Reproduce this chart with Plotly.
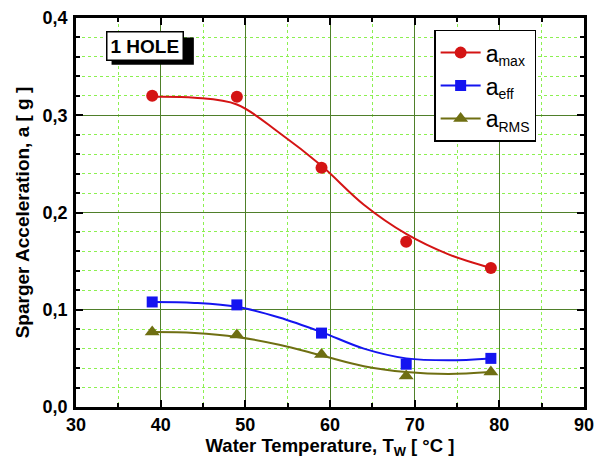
import plotly.graph_objects as go

# Measured data points
temps = [39, 49, 59, 69, 79]
a_max = [0.320, 0.319, 0.246, 0.170, 0.143]
a_eff = [0.108, 0.105, 0.076, 0.044, 0.050]
a_rms = [0.077, 0.074, 0.054, 0.032, 0.036]

# Fitted (smooth) curves
fit_t = [39, 44, 49, 54, 59, 64, 69, 74, 79]
fit_max = [0.319, 0.318, 0.311, 0.282, 0.248, 0.208, 0.178, 0.157, 0.143]
fit_eff = [0.108, 0.107, 0.103, 0.092, 0.077, 0.060, 0.050, 0.048, 0.050]
fit_rms = [0.077, 0.076, 0.072, 0.064, 0.053, 0.042, 0.036, 0.034, 0.036]

sub = "<sub><span style='font-size:14px'>{}</span></sub>"
series = [
    ("a" + sub.format("max"), a_max, fit_max, "#d41414", "circle", 12),
    ("a" + sub.format("eff"), a_eff, fit_eff, "#1414f0", "square", 11),
    ("a" + sub.format("RMS"), a_rms, fit_rms, "#6f6f12", "triangle-up", 13),
]

fig = go.Figure()
for name, vals, fit, color, sym, size in series:
    fig.add_trace(go.Scatter(x=fit_t, y=fit, mode="lines", line=dict(color=color, width=2, shape="spline"),
                             showlegend=False, hoverinfo="skip"))
    fig.add_trace(go.Scatter(x=temps, y=vals, mode="markers",
                             marker=dict(color=color, symbol=sym, size=size), showlegend=False))
    fig.add_trace(go.Scatter(x=[None], y=[None], mode="lines+markers", name=name,
                             line=dict(color=color, width=2),
                             marker=dict(color=color, symbol=sym, size=size)))

font_family = "Liberation Sans, Arial, sans-serif"
grid_major = "#4f7f2a"
grid_minor = "#8cf050"
tickfont = dict(size=18, family=font_family, color="black", weight="bold")

fig.update_xaxes(range=[30, 90], dtick=10, tick0=30, showgrid=True, gridcolor=grid_major, gridwidth=1.3,
                 minor=dict(dtick=5, showgrid=True, gridcolor=grid_minor, griddash="dot", gridwidth=1,
                            ticks="inside", ticklen=4, tickcolor="black"),
                 ticks="inside", ticklen=7, tickwidth=2, tickcolor="black", mirror="ticks",
                 showline=True, linecolor="black", linewidth=2.5, zeroline=False, automargin=False,
                 tickfont=tickfont,
                 title=dict(text="<b>Water Temperature, T<sub>W</sub> [ °C ]</b>",
                            font=dict(size=18.5, family=font_family, color="black"), standoff=5))
fig.update_yaxes(range=[0, 0.4], dtick=0.1, tick0=0, tickformat=".1f", showgrid=True, gridcolor=grid_major,
                 gridwidth=1.3,
                 minor=dict(dtick=0.02, showgrid=True, gridcolor=grid_minor, griddash="dot", gridwidth=1,
                            ticks="inside", ticklen=4, tickcolor="black"),
                 ticks="inside", ticklen=7, tickwidth=2, tickcolor="black", mirror="ticks",
                 showline=True, linecolor="black", linewidth=2.5, zeroline=False, automargin=False,
                 tickfont=tickfont, ticklabelstandoff=2,
                 title=dict(text="<b>Sparger Acceleration, a [ g ]</b>",
                            font=dict(size=19, family=font_family, color="black"), standoff=8))

# "1 HOLE" label with shadow
fig.add_shape(type="rect", xref="paper", yref="paper", x0=0.070, x1=0.232, y0=0.880, y1=0.950,
              fillcolor="black", line=dict(width=0), layer="above")
fig.add_annotation(xref="paper", yref="paper", x=0.059, y=0.966, xanchor="left", yanchor="top",
                   text="<b>1 HOLE</b>", showarrow=False, bgcolor="white", bordercolor="black",
                   borderwidth=1.5, borderpad=3, font=dict(size=19, family=font_family, color="black"))

# The page body adds an 8 px margin, so the figure is 8 px smaller each way
fig.update_layout(
    width=595, height=463,
    margin=dict(l=68, r=19, t=10, b=64),
    paper_bgcolor="white", plot_bgcolor="white",
    separators=",.",
    font=dict(family=font_family, color="black"),
    legend=dict(x=0.705, y=0.97, xanchor="left", yanchor="top", bgcolor="white",
                bordercolor="black", borderwidth=1.5, itemwidth=40,
                font=dict(size=23, family=font_family, color="black"), tracegroupgap=2),
)

fig.write_html("out.html")
